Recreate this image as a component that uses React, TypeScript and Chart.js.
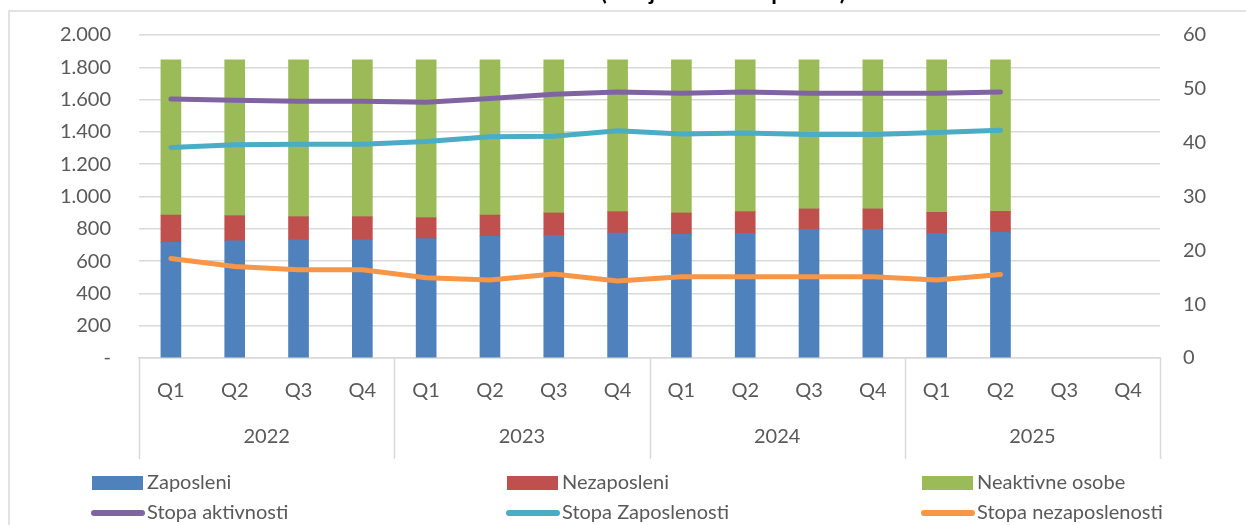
import { useEffect, useRef } from "react";
import { Chart, registerables } from "chart.js";

Chart.register(...registerables);

const quarters = ["Q1", "Q2", "Q3", "Q4", "Q1", "Q2", "Q3", "Q4", "Q1", "Q2", "Q3", "Q4", "Q1", "Q2", "Q3", "Q4"];
const years = ["2022", "2023", "2024", "2025"];
const zaposleni = [716, 726, 731, 731, 739, 753, 760, 774, 766, 772, 795, 795, 772, 778, null, null];
const nezaposleni = [169, 155, 144, 144, 130, 132, 138, 132, 132, 134, 128, 128, 130, 130, null, null];
const neaktivne = [962, 966, 972, 972, 978, 962, 949, 941, 949, 941, 924, 924, 945, 939, null, null];
const stopaAktivnosti = [48.1, 47.9, 47.7, 47.7, 47.5, 48.2, 49.0, 49.4, 49.2, 49.4, 49.2, 49.2, 49.2, 49.4, null, null];
const stopaZaposlenosti = [39.1, 39.6, 39.7, 39.7, 40.2, 41.1, 41.2, 42.2, 41.6, 41.8, 41.5, 41.5, 41.9, 42.3, null, null];
const stopaNezaposlenosti = [18.5, 17.0, 16.4, 16.4, 14.9, 14.5, 15.6, 14.3, 15.1, 15.1, 15.1, 15.1, 14.5, 15.5, null, null];
const leftTicks = { min: 0, max: 2000, step: 200 };
const rightTicks = { min: 0, max: 60, step: 10 };
const title = "Stanovništvo 15+ (u hiljadama i stope u %)";

const FONT = "Lato, 'Open Sans', sans-serif";
const TEXT = "#595959";
const GRID = "#D9D9D9";

const fmt = (v: number) => (v === 0 ? "-" : String(v).replace(/\B(?=(\d{3})+(?!\d))/g, "."));

const extras = {
  id: "extras",
  afterDraw(chart: any) {
    const ctx = chart.ctx as CanvasRenderingContext2D;
    const x = chart.scales.x;
    const area = chart.chartArea;
    ctx.save();
    // outer border
    ctx.strokeStyle = GRID;
    ctx.lineWidth = 1.5;
    ctx.beginPath();
    ctx.moveTo(9, 600);
    ctx.lineTo(9, 11);
    ctx.lineTo(1300, 11);
    ctx.stroke();
    // title (cut at top)
    ctx.fillStyle = "#000";
    ctx.font = `bold 23px ${FONT}`;
    ctx.textAlign = "right";
    ctx.textBaseline = "alphabetic";
    ctx.fillText(title, 846, 0);
    // group separators and years
    const n = quarters.length;
    const step = (area.right - area.left) / n;
    ctx.strokeStyle = GRID;
    ctx.lineWidth = 1.5;
    for (let g = 0; g <= years.length; g++) {
      const gx = Math.round(area.left + g * 4 * step) + 0.5;
      ctx.beginPath();
      ctx.moveTo(gx, area.bottom);
      ctx.lineTo(gx, 459);
      ctx.stroke();
    }
    ctx.fillStyle = TEXT;
    ctx.font = `20px ${FONT}`;
    ctx.textAlign = "center";
    ctx.textBaseline = "middle";
    years.forEach((y, g) => {
      const c = (x.getPixelForValue(g * 4) + x.getPixelForValue(g * 4 + 3)) / 2;
      ctx.fillText(y, c, 437);
    });
    // legend
    const ds = chart.data.datasets;
    const cols = [92, 507, 922];
    const byLabel = (l: string) => ds.find((d: any) => d.label === l);
    const items = [
      ["Zaposleni", "Nezaposleni", "Neaktivne osobe"],
      ["Stopa aktivnosti", "Stopa Zaposlenosti", "Stopa nezaposlenosti"],
    ];
    const rowsY = [483, 513];
    ctx.textAlign = "left";
    items.forEach((row, r) => {
      row.forEach((label, c) => {
        const d: any = byLabel(label);
        const lx = cols[c];
        const ly = rowsY[r];
        if (d.type === "line") {
          ctx.strokeStyle = d.borderColor;
          ctx.lineWidth = 6;
          ctx.lineCap = "round";
          ctx.beginPath();
          ctx.moveTo(lx + 2, ly);
          ctx.lineTo(lx + 50, ly);
          ctx.stroke();
        } else {
          ctx.fillStyle = d.backgroundColor;
          ctx.fillRect(lx, ly - 7, 51, 14);
        }
        ctx.fillStyle = TEXT;
        ctx.fillText(label, lx + 55, ly);
      });
    });
    ctx.restore();
  },
};

export default function App() {
  const ref = useRef<HTMLCanvasElement>(null);
  useEffect(() => {
    if (!ref.current) return;
    const lineDs = (label: string, data: (number | null)[], color: string) => ({
      type: "line" as const,
      label,
      data,
      borderColor: color,
      backgroundColor: color,
      borderWidth: 5,
      borderCapStyle: "round" as const,
      borderJoinStyle: "round" as const,
      pointRadius: 0,
      tension: 0,
      yAxisID: "y1",
      order: 0,
      spanGaps: false,
    });
    const barDs = (label: string, data: (number | null)[], color: string) => ({
      type: "bar" as const,
      label,
      data,
      backgroundColor: color,
      borderWidth: 0,
      barThickness: 20,
      yAxisID: "y",
      stack: "s",
      order: 1,
    });
    const chart = new Chart(ref.current, {
      type: "bar",
      data: {
        labels: quarters,
        datasets: [
          lineDs("Stopa aktivnosti", stopaAktivnosti, "#8064A2"),
          lineDs("Stopa Zaposlenosti", stopaZaposlenosti, "#4BACC6"),
          lineDs("Stopa nezaposlenosti", stopaNezaposlenosti, "#F79646"),
          barDs("Zaposleni", zaposleni, "#4F81BD"),
          barDs("Nezaposleni", nezaposleni, "#C0504D"),
          barDs("Neaktivne osobe", neaktivne, "#9BBB59"),
        ] as any,
      },
      options: {
        animation: false,
        responsive: true,
        maintainAspectRatio: false,
        layout: { padding: { top: 35, left: 0, right: 0, bottom: 0 } },
        plugins: { legend: { display: false }, tooltip: { enabled: false }, title: { display: false } },
        scales: {
          x: {
            stacked: true,
            grid: { display: false },
            border: { display: true, color: GRID, width: 1.5 },
            ticks: { color: TEXT, font: { family: FONT, size: 20 }, padding: 13, maxRotation: 0, autoSkip: false },
            afterFit: (s: any) => { s.height = 167; },
          },
          y: {
            stacked: true,
            position: "left",
            min: leftTicks.min,
            max: leftTicks.max,
            grid: { color: GRID, lineWidth: 1.5, drawTicks: true, tickLength: 28, tickColor: "rgba(0,0,0,0)" },
            border: { display: false },
            ticks: {
              stepSize: leftTicks.step,
              color: TEXT,
              font: { family: FONT, size: 20 },
              padding: 0,
              callback: (v: any) => fmt(Number(v)),
            },
            afterFit: (s: any) => { s.width = 139; },
          },
          y1: {
            position: "right",
            min: rightTicks.min,
            max: rightTicks.max,
            grid: { display: false, drawTicks: true, tickLength: 23, tickColor: "rgba(0,0,0,0)" },
            border: { display: false },
            ticks: { stepSize: rightTicks.step, color: TEXT, font: { family: FONT, size: 20 }, padding: 0 },
            afterFit: (s: any) => { s.width = 86; },
          },
        },
      } as any,
      plugins: [extras],
    });
    return () => chart.destroy();
  }, []);
  return (
    <div style={{ position: "fixed", left: 0, top: 0, width: 1246, height: 525, background: "#fff", overflow: "hidden" }}>
      <canvas ref={ref} />
    </div>
  );
}
